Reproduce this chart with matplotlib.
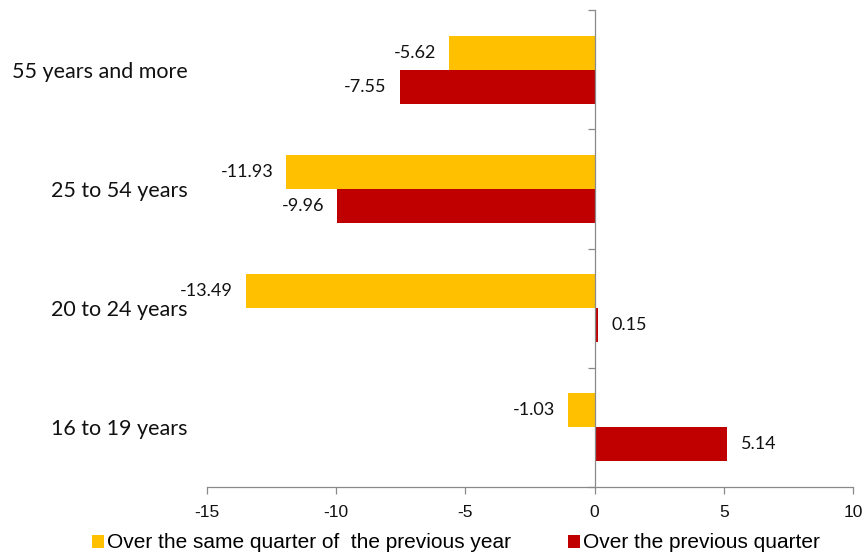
import matplotlib
matplotlib.use("Agg")
import matplotlib.pyplot as plt
import numpy as np

categories = ["55 years and more", "25 to 54 years", "20 to 24 years", "16 to 19 years"]
same_quarter_prev_year = [-5.62, -11.93, -13.49, -1.03]
prev_quarter = [-7.55, -9.96, 0.15, 5.14]
series_names = ["Over the same quarter of  the previous year", "Over the previous quarter"]
x_ticks = [-15, -10, -5, 0, 5, 10]

YELLOW = "#FFC000"
RED = "#C00000"
GREY = "#898989"

fig = plt.figure(figsize=(8.64, 5.58), dpi=100)
ax = fig.add_axes([207/864, 1-487/558, 646/864, 477/558])

pos = np.arange(len(categories))
h = 0.285
b1 = ax.barh(pos - h/2, same_quarter_prev_year, height=h, color=YELLOW, label=series_names[0])
b2 = ax.barh(pos + h/2, prev_quarter, height=h, color=RED, label=series_names[1])

ax.set_ylim(len(categories) - 0.5, -0.5)
ax.set_xlim(x_ticks[0], x_ticks[-1])

for b in (b1, b2):
    ax.bar_label(b, fmt="%.2f", padding=9.5, fontsize=13, family="Lato", color="#111111")

for s in ("top", "right"):
    ax.spines[s].set_visible(False)
ax.spines["left"].set_position(("data", 0))
ax.spines["left"].set_color(GREY)
ax.spines["bottom"].set_color(GREY)
ax.spines["left"].set_linewidth(0.9)
ax.spines["bottom"].set_linewidth(0.9)

ax.set_xticks(x_ticks)
ax.set_xticklabels([str(t) for t in x_ticks], fontsize=12.5, family="Liberation Sans", color="#111111")
ax.tick_params(axis="x", direction="out", length=5, width=0.9, color=GREY, pad=8)

ax.set_yticks(pos)
ax.set_yticklabels(categories, fontsize=15.5, family="Lato", color="#111111")
ax.tick_params(axis="y", which="major", length=0, pad=293)
ax.set_yticks(np.arange(len(categories) + 1) - 0.5, minor=True)
ax.tick_params(axis="y", which="minor", direction="out", length=5, width=0.9, color=GREY)

fig.legend(handles=[b1, b2], labels=series_names, loc="center", bbox_to_anchor=(456/864, 1-543/558),
           ncol=2, frameon=False, prop={"family": "Liberation Sans", "size": 15},
           handlelength=0.6, handleheight=0.6, handletextpad=0.15, columnspacing=2.7,
           borderaxespad=0, borderpad=0)

fig.savefig("out.png", dpi=100)
